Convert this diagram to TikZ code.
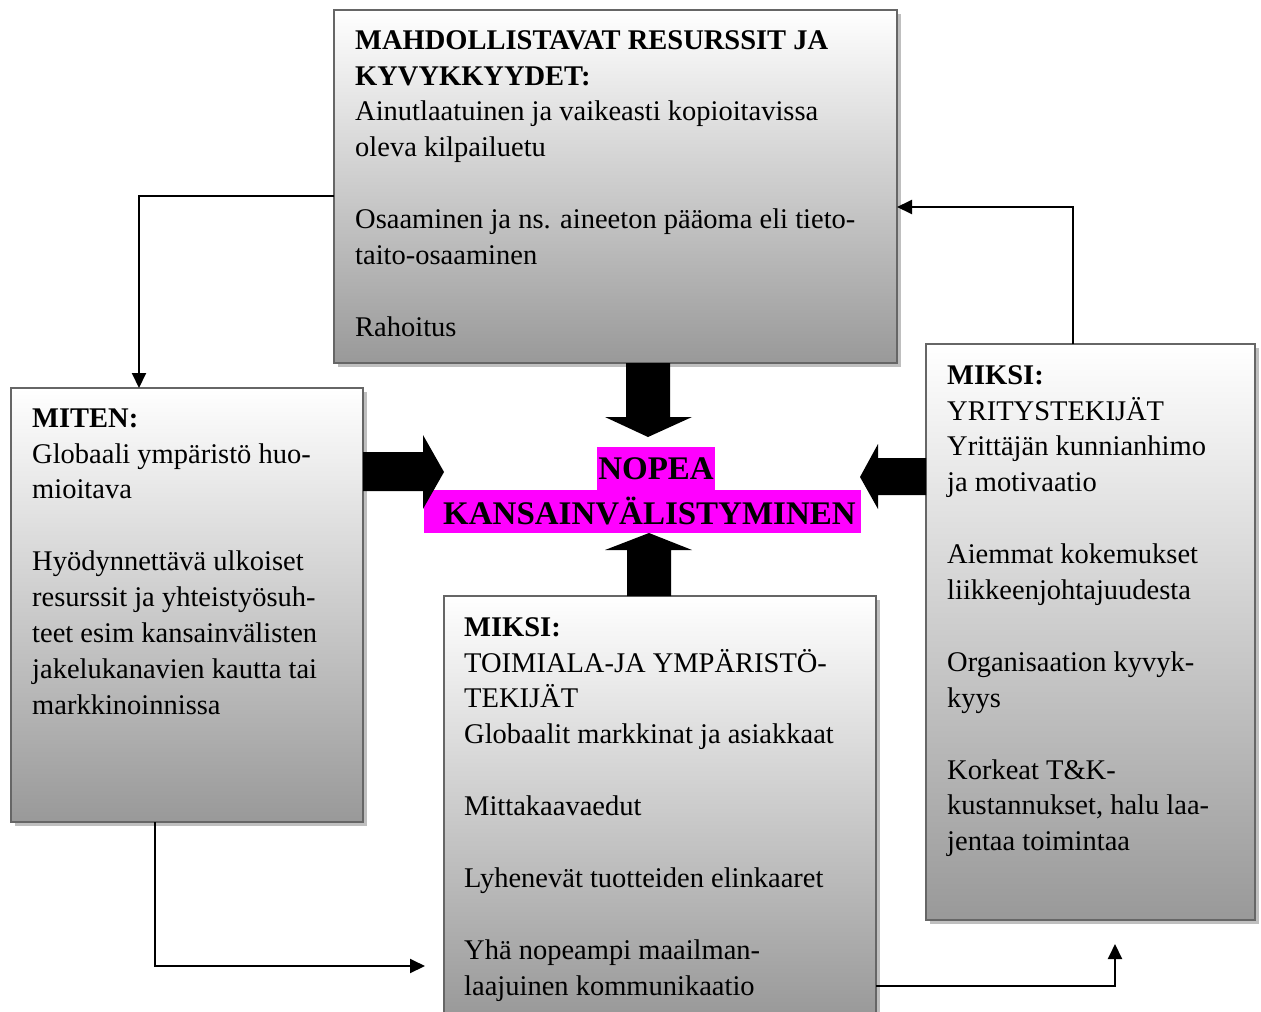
\documentclass[tikz,border=0pt]{standalone}
\usepackage{fontspec}
\setmainfont{Liberation Serif}
\usetikzlibrary{arrows.meta,shadows}
\definecolor{hlmag}{RGB}{255,0,255}
\begin{document}
\begin{tikzpicture}[x=1pt,y=-1pt,
  box/.style={draw=black!60, line width=2.5pt, top color=white, bottom color=black!40,
    drop shadow={shadow xshift=4pt, shadow yshift=-4pt, fill=black!25, opacity=1},
    anchor=north west, inner sep=0pt, outer sep=0pt},
  txt/.style={anchor=north west, inner sep=0pt, align=left, font=\fontsize{28.5}{35.9}\selectfont},
  hl/.style={fill=hlmag, inner sep=0pt, font=\fontsize{33}{36}\selectfont\bfseries},
  conn/.style={line width=2pt, -{Triangle[length=15pt,width=14pt]}},
  blk/.style={fill=black}]
\useasboundingbox (0,0) rectangle (1261,1012);

% boxes
\node[box, minimum width=563pt, minimum height=353pt] (top) at (334,10) {};
\node[box, minimum width=352pt, minimum height=434pt] (left) at (11,388) {};
\node[box, minimum width=432pt, minimum height=420pt] (bottom) at (444,596) {};
\node[box, minimum width=329pt, minimum height=576pt] (right) at (926,344) {};

% texts
\node[txt] (ttop) at (355,23.8) {\strut\textbf{MAHDOLLISTAVAT RESURSSIT JA}\\
\textbf{KYVYKKYYDET:}\\
Ainutlaatuinen ja vaikeasti kopioitavissa\\
oleva kilpailuetu\\[35.9pt]
Osaaminen ja ns. aineeton pääoma eli tieto-\\
taito-osaaminen\\[35.9pt]
Rahoitus};

\node[txt] (tleft) at (32,401.8) {\strut\textbf{MITEN:}\\
Globaali ympäristö huo-\\
mioitava\\[35.9pt]
Hyödynnettävä ulkoiset\\
resurssit ja yhteistyösuh-\\
teet esim kansainvälisten\\
jakelukanavien kautta tai\\
markkinoinnissa};

\node[txt] (tbottom) at (464,610.8) {\strut\textbf{MIKSI:}\\
TOIMIALA-JA YMPÄRISTÖ-\\
TEKIJÄT\\
Globaalit markkinat ja asiakkaat\\[35.9pt]
Mittakaavaedut\\[35.9pt]
Lyhenevät tuotteiden elinkaaret\\[35.9pt]
Yhä nopeampi maailman-\\
laajuinen kommunikaatio};

\node[txt] (tright) at (947,358.8) {\strut\textbf{MIKSI:}\\
YRITYSTEKIJÄT\\
Yrittäjän kunnianhimo\\
ja motivaatio\\[35.9pt]
Aiemmat kokemukset\\
liikkeenjohtajuudesta\\[35.9pt]
Organisaation kyvyk-\\
kyys\\[35.9pt]
Korkeat T\&K-\\
kustannukset, halu laa-\\
jentaa toimintaa};

% centre
\node[hl, minimum width=118pt, minimum height=43pt] (nopea) at (656,468.5) {NOPEA};
\node[hl, minimum width=437pt, minimum height=43pt] (kans) at (642.5,511.5) {\hspace*{14pt}KANSAINVÄLISTYMINEN};

% block arrows
\fill[blk] (626,363) -- (670,363) -- (670,417) -- (692,417) -- (648,437) -- (605,417) -- (626,417) -- cycle;
\fill[blk] (627,596) -- (671,596) -- (671,550) -- (692,550) -- (649,533) -- (605,550) -- (627,550) -- cycle;
\fill[blk] (363,452) -- (423,452) -- (423,435) -- (444,472) -- (423,509) -- (423,491) -- (363,491) -- cycle;
\fill[blk] (926,458) -- (878,458) -- (878,444) -- (860,477) -- (878,509) -- (878,495) -- (926,495) -- cycle;

% connectors
\coordinate (c1) at (139,196);
\draw[conn] (top.west |- c1) -- (c1) -- (c1 |- left.north);
\coordinate (c2) at (1073,207);
\draw[conn] (c2 |- right.north) -- (c2) -- (c2 -| top.east);
\coordinate (c3) at (155,966);
\coordinate (c3e) at (425,966);
\draw[conn] (c3 |- left.south) -- (c3) -- (c3e);
\coordinate (c4) at (1115,986);
\coordinate (c4e) at (1115,944);
\draw[conn] (c4 -| bottom.east) -- (c4) -- (c4e);
\end{tikzpicture}
\end{document}
